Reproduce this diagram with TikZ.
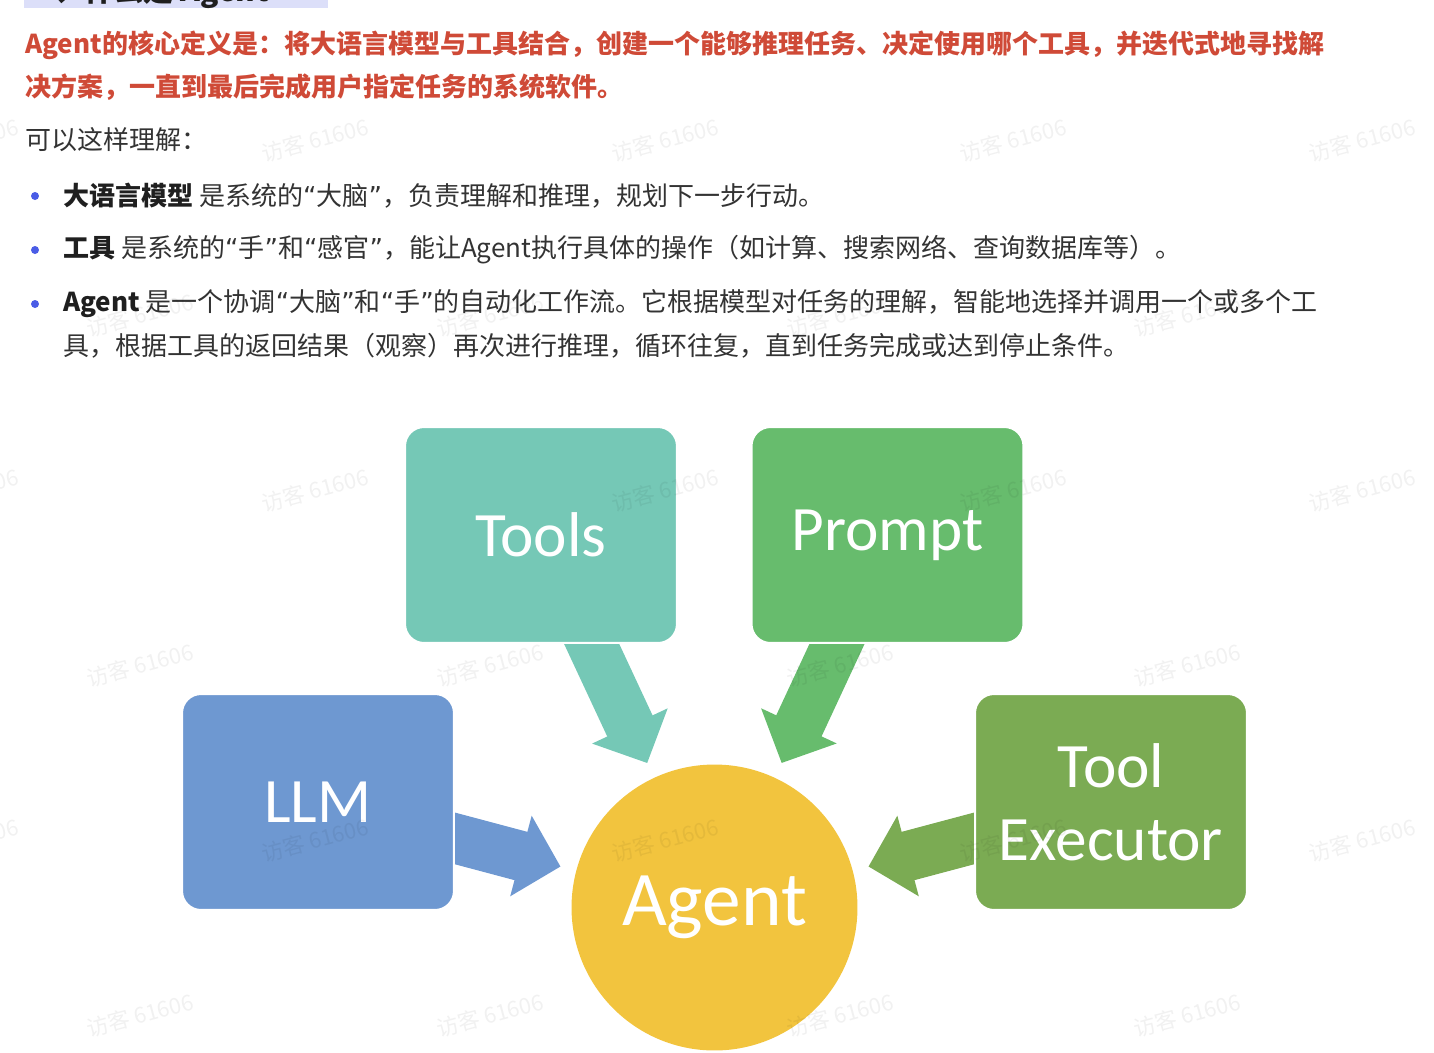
\documentclass[tikz,border=0pt]{standalone}
\usepackage{fontspec}
\usetikzlibrary{arrows.meta,backgrounds}
\setmainfont{Noto Sans CJK SC}
\newfontfamily\boxfont{Carlito}
\newfontfamily\quotefont{DejaVu Sans}
\newcommand{\oq}{{\quotefont “}}
\newcommand{\cq}{{\quotefont ”}}

\definecolor{headbg}{HTML}{DCDFF9}
\definecolor{titlered}{HTML}{CF4A37}
\definecolor{bodygray}{HTML}{333333}
\definecolor{boldgray}{HTML}{1F1F1F}
\definecolor{dotblue}{HTML}{4A5CE6}
\definecolor{toolsteal}{HTML}{75C8B6}
\definecolor{promptgreen}{HTML}{67BC6D}
\definecolor{llmblue}{HTML}{6E98D1}
\definecolor{execgreen}{HTML}{7BAB53}
\definecolor{agentyellow}{HTML}{F2C43E}

\tikzset{
  redline/.style={anchor=west, inner sep=0pt, text=titlered, font=\bfseries\fontsize{14.8}{18}\selectfont},
  bodyline/.style={anchor=west, inner sep=0pt, text=bodygray, font=\fontsize{14.8}{18}\selectfont},
  bulletdot/.style={circle, fill=dotblue, inner sep=0pt, minimum size=0.16cm},
  card/.style={rectangle, rounded corners=0.38cm, minimum width=5.44cm, minimum height=4.32cm, draw=white, line width=0.04cm, text=white, align=center, font=\boxfont\fontsize{36}{41.5}\selectfont},
  blockarrow/.style={line width=1cm, shorten <=-0.4cm, shorten >=0.32cm, -{Triangle[width=1.62cm,length=0.82cm]}},
  watermark/.style={rotate=15, text=black, text opacity=0.055, font=\fontsize{12.5}{12.5}\selectfont},
}

\begin{document}
\begin{tikzpicture}[x=0.02cm, y=-0.02cm]
\useasboundingbox (0,0) rectangle (1434,1052);

% heading, cut off at the top
\fill[headbg] (24,0) rectangle (328,8);
\begin{scope}
  \clip (24,0) rectangle (328,8);
  \node[anchor=base west, inner sep=0pt, text=boldgray, font=\bfseries\fontsize{17}{17}\selectfont] (head) at (24,1) {一、什么是 Agent};
\end{scope}

% text
\node[redline] (def1) at (25,45) {Agent的核心定义是：将大语言模型与工具结合，创建一个能够推理任务、决定使用哪个工具，并迭代式地寻找解};
\node[redline] (def2) at (25,87) {决方案，一直到最后完成用户指定任务的系统软件。};
\node[bodyline] (intro) at (25,140) {可以这样理解：};
\node[bulletdot] (dot1) at (35,196) {};
\node[bodyline] (item1) at (63,196) {{\color{boldgray}\bfseries 大语言模型} 是系统的\oq 大脑\cq，负责理解和推理，规划下一步行动。};
\node[bulletdot] (dot2) at (35,250) {};
\node[bodyline] (item2) at (63,250) {{\color{boldgray}\bfseries 工具} 是系统的\oq 手\cq 和\oq 感官\cq，能让Agent执行具体的操作（如计算、搜索网络、查询数据库等）。};
\node[bulletdot] (dot3) at (35,304) {};
\node[bodyline] (item3a) at (63,304) {{\color{boldgray}\bfseries Agent} 是一个协调\oq 大脑\cq 和\oq 手\cq 的自动化工作流。它根据模型对任务的理解，智能地选择并调用一个或多个工};
\node[bodyline] (item3b) at (63,346) {具，根据工具的返回结果（观察）再次进行推理，循环往复，直到任务完成或达到停止条件。};

% diagram
\node[card, fill=toolsteal] (tools) at (541,535) {Tools};
\node[card, fill=promptgreen] (prompt) at (887.5,535) {Prompt};
\node[card, fill=llmblue] (llm) at (318,802) {LLM};
\node[card, fill=execgreen] (executor) at (1111,802) {Tool\\Executor};
\node[circle, fill=agentyellow, minimum size=5.72cm, inner sep=0pt, text=white, font=\boxfont\fontsize{44}{44}\selectfont] (agent) at (714.5,907.5) {Agent};

\begin{pgfonlayer}{background}
  \draw[blockarrow, toolsteal] (tools) -- (agent);
  \draw[blockarrow, promptgreen] (prompt) -- (agent);
  \draw[blockarrow, llmblue] (llm) -- (agent);
  \draw[blockarrow, execgreen] (executor) -- (agent);
\end{pgfonlayer}

% watermarks
\foreach \y in {140,490,840}
  \foreach \x in {-35,315,665,1013,1362}
    \node[watermark] at (\x,\y) {访客 61606};
\foreach \y in {315,665,1015}
  \foreach \x in {140,490,840,1187}
    \node[watermark] at (\x,\y) {访客 61606};
\end{tikzpicture}
\end{document}
